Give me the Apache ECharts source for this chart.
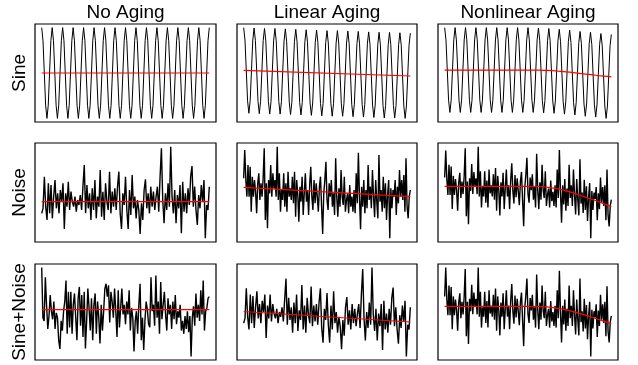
<!DOCTYPE html>
<html><head><meta charset="utf-8">
<script src="https://cdn.jsdelivr.net/npm/echarts/dist/echarts.min.js"></script>
<style>html,body{margin:0;padding:0;background:#fff}#c{width:638px;height:365px}</style>
</head><body><div id="c"></div>
<script>
const columnTitles = ['No Aging', 'Linear Aging', 'Nonlinear Aging'];
const rowTitles = ['Sine', 'Noise', 'Sine+Noise'];

const sineNoAging = [
1,.71,0,-.71,-1,-.71,0,.71, 1,.71,0,-.71,-1,-.71,0,.71, 1,.71,0,-.71,-1,-.71,0,.71, 1,.71,0,-.71,-1,-.71,0,.71,
1,.71,0,-.71,-1,-.71,0,.71, 1,.71,0,-.71,-1,-.71,0,.71, 1,.71,0,-.71,-1,-.71,0,.71, 1,.71,0,-.71,-1,-.71,0,.71,
1,.71,0,-.71,-1,-.71,0,.71, 1,.71,0,-.71,-1,-.71,0,.71, 1,.71,0,-.71,-1,-.71,0,.71, 1,.71,0,-.71,-1,-.71,0,.71,
1,.71,0,-.71,-1,-.71,0,.71, 1,.71,0,-.71,-1,-.71,0,.71, 1,.71,0,-.71,-1,-.71,0,.71, 1,.71,0,-.71,-1,-.71,0,.71, 1];
const sineLinear = [
1,.71,0,-.71,-1,-.71,0,.71, .99,.70,-.01,-.72,-1.01,-.72,-.01,.70, .98,.69,-.02,-.73,-1.02,-.73,-.02,.69, .98,.69,-.02,-.73,-1.02,-.73,-.02,.69,
.97,.68,-.03,-.74,-1.03,-.74,-.03,.68, .96,.67,-.04,-.75,-1.04,-.75,-.04,.67, .95,.66,-.05,-.76,-1.05,-.76,-.05,.66, .94,.65,-.06,-.77,-1.06,-.77,-.06,.65,
.93,.64,-.07,-.78,-1.07,-.78,-.07,.64, .93,.64,-.07,-.78,-1.07,-.78,-.07,.64, .92,.63,-.08,-.79,-1.08,-.79,-.08,.63, .91,.62,-.09,-.80,-1.09,-.80,-.09,.62,
.90,.61,-.10,-.81,-1.10,-.81,-.10,.61, .89,.60,-.11,-.82,-1.11,-.82,-.11,.60, .89,.60,-.11,-.82,-1.11,-.82,-.11,.60, .88,.59,-.12,-.83,-1.12,-.83,-.12,.59, .87];
const sineNonlinear = [
1,.71,0,-.71,-1,-.71,0,.71, 1,.71,0,-.71,-1,-.71,0,.71, 1,.71,0,-.71,-1,-.71,0,.71, 1,.71,0,-.71,-1,-.71,0,.71,
1,.71,0,-.71,-1,-.71,0,.71, 1,.71,0,-.71,-1,-.71,0,.71, 1,.71,0,-.71,-1,-.71,0,.71, 1,.71,0,-.71,-1,-.71,0,.71,
1,.71,0,-.71,-1,-.71,0,.71, .99,.70,-.01,-.72,-1.01,-.72,-.01,.70, .98,.69,-.02,-.73,-1.02,-.73,-.02,.69, .96,.67,-.04,-.75,-1.04,-.75,-.04,.67,
.94,.65,-.06,-.77,-1.06,-.77,-.06,.65, .91,.62,-.09,-.80,-1.09,-.80,-.09,.62, .89,.60,-.11,-.82,-1.11,-.82,-.11,.60, .86,.57,-.14,-.85,-1.14,-.85,-.14,.57, .84];

const noiseNoAging = [
-0.70,-0.40,1.50,-0.30,-1.10,1.10,-0.70,1.00,-1.00,0.30,1.30,-0.40,0.50,-0.70,0.70,0,1.10,-1.64,
0.50,-0.30,1.20,-0.50,0.60,0,-0.30,0.30,-0.60,0.10,-0.20,0.40,-0.50,0.90,2.20,-0.70,1.00,-0.40,
0.50,-1.10,0.80,-0.50,1.30,-1.00,0.30,-0.30,1.90,-0.90,0.60,-1.10,1.10,0,-0.50,1.80,-0.70,0.60,
-0.30,0.80,-0.50,0.90,1.80,-0.70,-1.64,0.50,-0.20,1.50,-0.50,-1.64,0.70,-0.80,1.60,-0.40,0.30,-1.00,
0.10,-0.50,-1.94,-0.10,-1.10,0.70,1.34,-0.40,0.50,-0.70,0.90,-0.30,0.60,-0.50,0.30,0.90,-0.60,1.50,
3.20,0.10,-1.30,0.50,-0.50,1.10,-0.30,3.30,0.30,-0.70,0.70,-1.30,0.40,-0.40,1.00,-1.90,1.20,-0.60,
0.50,-0.70,0.80,-0.20,1.50,2.14,-0.30,0.90,-0.50,-1.40,0.40,-0.40,1.00,0,1.30,-2.20,-0.20,-0.50,0.90];
const noiseLinear = [
1.40,3.10,1.30,0.30,2.20,0.30,2.10,-0.60,1.50,0.30,
1.30,0.60,-0.70,1.10,1.70,0.10,1.10,0.30,1.40,3.20,
-1.10,1.10,-1.60,1.30,0.50,2.20,0.30,1.70,0.80,1.30,
0.30,3.30,0.10,1.70,-0.60,0.70,0.10,1.70,-0.30,1.10,
-0.60,1.80,0.30,0.80,0.10,1.50,-0.10,1.80,-0.90,1.30,
0.40,-1.20,0.90,0.00,1.50,-0.80,0.50,1.70,0.00,0.70,
-0.80,1.00,2.10,0.30,-0.50,1.30,-0.10,1.10,0.30,-0.60,
0.90,1.50,-0.30,-1.94,0.50,1.30,2.40,0.10,-0.50,1.10,
0.30,1.30,-0.30,0.50,-0.80,2.60,0.30,-0.90,0.80,-0.30,
1.90,0.30,-0.20,1.50,-0.60,0.10,0.50,-0.70,1.00,-0.30,
0.30,-0.60,0.70,-0.70,1.70,-0.10,2.94,0.30,-1.66,0.90,
-0.30,1.30,-0.70,0.70,-0.40,2.20,0.10,0.90,-0.40,1.90,
0.30,-0.94,1.30,0.00,-1.00,2.80,0.00,0.70,-0.60,1.50,
-0.40,1.10,-1.10,0.40,1.30,-2.20,0.80,-0.40,0.70,0.30,
1.30,-0.80,0.90,-0.10,1.90,0.30,1.30,0.10,1.60,-0.60,
2.60,-0.30,-1.00,0.30,0.70];
const noiseNonlinear = [
1.50,3.20,1.40,0.40,2.30,0.40,2.20,-0.50,1.60,0.40,1.40,0.70,-0.60,1.20,1.80,0.20,
1.25,0.45,1.55,3.35,-0.95,1.25,-1.45,1.45,0.65,2.35,0.45,1.85,0.95,1.45,0.45,3.45,
0.30,1.90,-0.40,0.90,0.30,1.90,-0.10,1.30,-0.40,2.00,0.50,1.00,0.30,1.70,0.10,
2.10,-0.60,1.60,0.70,-0.90,1.20,0.30,1.80,-0.50,0.80,2.00,0.30,1.00,-0.50,1.30,2.40,
0.65,-0.15,1.65,0.25,1.45,0.65,-0.25,1.25,1.85,0.05,-1.59,0.85,1.65,2.75,0.45,
-0.10,1.50,0.70,1.70,0.10,0.90,-0.40,3.00,0.70,-0.50,1.20,0.10,2.30,0.70,0.20,1.90,
-0.30,0.40,0.80,-0.40,1.30,0.00,0.60,-0.30,1.00,-0.40,2.00,0.20,3.24,0.60,-1.36,
1.00,-0.20,1.40,-0.60,0.80,-0.30,2.30,0.20,1.00,-0.30,2.00,0.40,-0.84,1.40,0.10,-0.90,
2.65,-0.15,0.55,-0.75,1.35,-0.55,0.95,-1.25,0.25,1.15,-2.35,0.65,-0.55,0.55,0.15,
0.90,-1.20,0.50,-0.50,1.50,-0.10,0.90,-0.30,
1.00,-1.20,2.00,-0.90,-1.60,-0.30,0.10];

const sineNoiseNoAging = [
2.60,-0.50,-0.70,2.00,0.30,-1.20,-0.40,0.90,-0.10,-0.60,
0.50,-1.20,-0.20,-0.50,-1.90,-2.44,-0.70,-1.30,-0.10,0.50,
1.80,-1.50,1.10,-1.10,1.10,-1.50,0.30,1.00,-0.50,-1.90,
0.70,1.40,-1.00,0.90,-1.70,1.10,-2.40,-0.70,1.30,0.10,
-1.30,0.70,-1.90,0.30,1.00,-1.50,0.50,-0.50,-2.10,0.30,
-1.30,-0.10,1.30,1.60,0.80,1.50,-0.80,1.10,0.50,-0.50,
1.30,-0.10,-1.70,1.20,-1.10,0.10,1.30,-0.30,0.30,-0.90,
0.50,-0.30,1.20,-1.30,0.10,-0.50,-2.60,-0.70,-0.10,-1.50,
0.30,1.60,-1.90,-0.50,-2.50,-0.70,0.50,0.00,-0.90,-1.10,
2.00,-0.10,0.30,-1.00,2.10,-0.50,0.50,-1.50,1.70,-0.60,
0.30,1.10,-0.30,-1.30,0.70,-0.30,0.30,-1.20,0.50,-0.60,
0.90,-0.90,-0.10,-0.50,0.30,-1.30,-0.70,-1.50,-0.40,-1.20,
-0.10,-1.40,-0.40,-2.90,-0.50,0.20,-1.00,1.00,-0.50,0.30,
-0.70,1.20,-0.30,1.80,-1.30,-0.10,0.10,0.70,0.80];
const sineNoiseLinear = [
-0.40,-0.10,1.80,0.00,-0.80,1.40,-0.40,1.30,-0.70,0.60,1.60,-0.10,0.80,-0.40,1.00,0.30,1.40,-1.34,
0.70,-0.10,1.40,-0.30,0.80,0.20,-0.10,0.50,-0.40,0.30,0.00,0.60,-0.30,1.10,2.40,-0.50,1.20,-0.20,
0.60,-1.00,0.90,-0.40,1.40,-0.90,0.40,-0.20,2.00,-0.80,0.70,-1.00,1.20,0.10,-0.40,1.90,-0.60,0.70,
-0.30,0.80,-0.50,0.90,1.80,-0.70,-1.64,0.50,-0.20,1.50,-0.50,-1.64,0.70,-0.80,1.60,-0.40,0.30,-1.00,
0.00,-0.60,-2.04,-0.20,-1.20,0.60,1.24,-0.50,0.40,-0.80,0.80,-0.40,0.50,-0.60,0.20,0.80,-0.70,1.40,
3.00,-0.10,-1.50,0.30,-0.70,0.90,-0.50,3.10,0.10,-0.90,0.50,-1.50,0.20,-0.60,0.80,-2.10,1.00,-0.80,
0.20,-1.00,0.50,-0.50,1.20,1.84,-0.60,0.60,-0.80,-1.70,0.10,-0.70,0.70,-0.30,1.00,-2.50,-0.50,-0.80,0.60];
const sineNoiseNonlinear = [
1.60,3.45,1.40,0.40,2.30,0.40,2.20,-0.50,1.60,0.40,1.40,0.70,-0.60,1.20,1.80,0.20,
1.25,0.45,1.55,3.35,-0.95,1.25,-1.45,1.45,0.65,2.35,0.45,1.85,0.95,1.45,0.45,3.45,
0.30,1.90,-0.40,0.90,0.30,1.90,-0.10,1.30,-0.40,2.00,0.50,1.00,0.30,1.70,0.10,
2.10,-0.60,1.60,0.70,-0.90,1.20,0.30,1.80,-0.50,0.80,2.00,0.30,1.00,-0.50,1.30,2.40,
0.65,-0.15,1.65,0.25,1.45,0.65,-0.25,1.25,1.85,0.05,-1.59,0.85,1.65,2.75,0.45,
-0.10,1.50,0.70,1.70,0.10,0.90,-0.40,3.00,0.70,-0.50,1.20,0.10,2.30,0.70,0.20,1.90,
-0.30,0.40,0.80,-0.40,1.30,0.00,0.60,-0.30,1.00,-0.40,2.00,0.20,3.24,0.60,-1.36,
1.00,-0.20,1.40,-0.60,0.80,-0.30,2.30,0.20,1.00,-0.30,2.00,0.40,-0.84,1.40,0.10,-0.90,
2.75,-0.05,0.65,-0.65,1.45,-0.45,1.05,-1.15,0.35,1.25,-2.25,0.75,-0.45,0.65,0.25,
1.10,-1.00,0.70,-0.30,1.70,0.10,1.10,-0.10,
1.25,-0.95,2.25,-0.65,-1.35,-0.05,0.35];

// fitted red trend lines: [fraction of series, value]
const trendSineNoAging = [[0, 0], [1, 0]];
const trendSineLinear = [[0, 0], [1, -0.13]];
const trendSineNonlinear = [[0,0],[0.56,0],[0.62,-0.01],[0.69,-0.03],[0.75,-0.05],[0.81,-0.08],[0.88,-0.11],[0.94,-0.14],[1,-0.16]];
const trendNoiseNoAging = [[0, 0], [1, 0]];
const trendNoiseLinear = [[0, 0.86], [1, 0.30]];
const trendNoiseNonlinear = [[0,0.94],[0.5,0.94],[0.56,0.93],[0.62,0.88],[0.68,0.78],[0.74,0.62],[0.80,0.42],[0.86,0.20],[0.93,-0.06],[1,-0.34]];
const trendSineNoiseNoAging = [[0, 0], [1, 0]];
const trendSineNoiseLinear = [[0, 0.33], [1, -0.33]];
const trendSineNoiseNonlinear = [[0,0.96],[0.5,0.96],[0.58,0.95],[0.64,0.90],[0.70,0.80],[0.76,0.66],[0.82,0.48],[0.88,0.28],[0.94,0.06],[1,-0.14]];

const panels = [
  [sineNoAging, trendSineNoAging], [sineLinear, trendSineLinear], [sineNonlinear, trendSineNonlinear],
  [noiseNoAging, trendNoiseNoAging], [noiseLinear, trendNoiseLinear], [noiseNonlinear, trendNoiseNonlinear],
  [sineNoiseNoAging, trendSineNoiseNoAging], [sineNoiseLinear, trendSineNoiseLinear], [sineNoiseNonlinear, trendSineNoiseNonlinear]
];

const colBoxes = [{left: 35, width: 181}, {left: 237, width: 180}, {left: 438, width: 180}];
const rowBoxes = [{top: 24, height: 98}, {top: 143, height: 99}, {top: 264, height: 96}];
const FONT = '19px "Liberation Sans", Arial, Helvetica, sans-serif';

const grid = [], xAxis = [], yAxis = [], series = [], graphic = [];
panels.forEach(([vals, trend], p) => {
  const r = Math.floor(p / 3), c = p % 3;
  grid.push({left: colBoxes[c].left, top: rowBoxes[r].top, width: colBoxes[c].width, height: rowBoxes[r].height,
    show: true, borderColor: '#000', borderWidth: 1.2, backgroundColor: 'transparent', containLabel: false});
  const n = vals.length - 1;
  xAxis.push({type: 'value', gridIndex: p, min: -0.04 * n, max: 1.04 * n, show: false});
  const lo = Math.min(...vals), hi = Math.max(...vals), pad = 0.04 * (hi - lo);
  yAxis.push({type: 'value', gridIndex: p, min: lo - pad, max: hi + pad, show: false});
  series.push({type: 'line', xAxisIndex: p, yAxisIndex: p, data: vals.map((v, i) => [i, v]),
    showSymbol: false, symbol: 'none', silent: true, lineStyle: {color: '#000', width: r === 0 ? 1 : 1.4}, z: 2});
  series.push({type: 'line', xAxisIndex: p, yAxisIndex: p, data: trend.map(([f, v]) => [f * n, v]),
    showSymbol: false, symbol: 'none', silent: true, smooth: trend.length > 2 ? 0.3 : false,
    lineStyle: {color: '#ff0000', width: 1.2}, z: 3});
});

columnTitles.forEach((t, c) => {
  graphic.push({type: 'text', x: colBoxes[c].left + colBoxes[c].width / 2, y: 13,
    style: {text: t, font: FONT, fill: '#000', align: 'center', verticalAlign: 'middle', textAlign: 'center', textVerticalAlign: 'middle'}});
});
rowTitles.forEach((t, r) => {
  graphic.push({type: 'text', x: 20, y: rowBoxes[r].top + rowBoxes[r].height / 2, rotation: Math.PI / 2,
    style: {text: t, font: FONT, fill: '#000', align: 'center', verticalAlign: 'middle', textAlign: 'center', textVerticalAlign: 'middle'}});
});

const chart = echarts.init(document.getElementById('c'), null, {renderer: 'canvas'});
chart.setOption({animation: false, backgroundColor: '#fff', grid, xAxis, yAxis, series, graphic});
</script></body></html>
